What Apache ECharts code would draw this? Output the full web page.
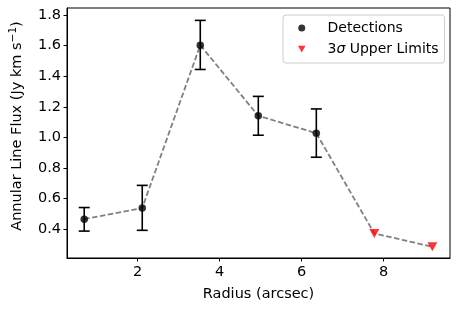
<!DOCTYPE html>
<html><head><meta charset="utf-8">
<script src="https://cdn.jsdelivr.net/npm/echarts@6/dist/echarts.min.js"></script>
<style>html,body{margin:0;padding:0;background:#fff}#c{width:459px;height:311px}</style>
</head><body><div id="c"></div>
<script>
const radius = [0.70, 2.115, 3.53, 4.945, 6.36, 7.775, 9.19];
const flux = [0.465, 0.538, 1.603, 1.141, 1.027, 0.371, 0.285];
const detX = [0.70, 2.115, 3.53, 4.945, 6.36];
const detY = [0.465, 0.538, 1.603, 1.141, 1.027];
const errLow = [0.387, 0.392, 1.444, 1.014, 0.870];
const errHigh = [0.541, 0.686, 1.765, 1.268, 1.186];
const ulX = [7.775, 9.19];
const ulY = [0.371, 0.285];
const xTicks = [2, 4, 6, 8];
const yTicks = [0.4, 0.6, 0.8, 1.0, 1.2, 1.4, 1.6, 1.8];

const font = 'DejaVu Sans';
const fs = 14.5;
const chart = echarts.init(document.getElementById('c'), null, {renderer: 'canvas'});
chart.setOption({
  animation: false,
  backgroundColor: '#fff',
  grid: {left: 65, right: 9, top: 8, bottom: 53, show: true, borderColor: '#000', borderWidth: 1, backgroundColor: 'transparent'},
  xAxis: {
    type: 'value', min: 0.28, max: 9.62,
    name: 'Radius (arcsec)', nameLocation: 'middle', nameGap: 29,
    nameTextStyle: {fontFamily: font, fontSize: fs, color: '#000'},
    axisLine: {show: true, onZero: false, lineStyle: {color: '#000', width: 1}},
    axisTick: {show: true, length: 3.5, lineStyle: {color: '#000'}, customValues: xTicks},
    axisLabel: {fontFamily: font, fontSize: fs, color: '#000', margin: 7, customValues: xTicks, formatter: v => String(v)},
    splitLine: {show: false}
  },
  yAxis: {
    type: 'value', min: 0.211, max: 1.846,
    name: '{n|Annular Line Flux (Jy km s}{s|−1}{n|)}', nameLocation: 'middle', nameGap: 41,
    nameTextStyle: {fontFamily: font, fontSize: fs, color: '#000', padding: [0, 0, 0, 14],
      rich: {n: {fontFamily: font, fontSize: fs, color: '#000'}, s: {fontFamily: font, fontSize: 10.5, color: '#000', verticalAlign: 'top', padding: [0,0,7,0]}}},
    axisLine: {show: true, onZero: false, lineStyle: {color: '#000', width: 1}},
    axisTick: {show: true, length: 3.5, lineStyle: {color: '#000'}, customValues: yTicks},
    axisLabel: {fontFamily: font, fontSize: fs, color: '#000', margin: 6, customValues: yTicks, formatter: v => v.toFixed(1)},
    splitLine: {show: false}
  },
  legend: {
    orient: 'vertical', left: 283, top: 15,
    backgroundColor: '#fff', borderColor: '#ccc', borderWidth: 1, borderRadius: 3,
    padding: [6, 6, 7, 15], itemGap: 7, itemWidth: 7.5, itemHeight: 7,
    textStyle: {fontFamily: font, fontSize: 14, color: '#000', padding: [0,0,0,17],
      rich: {i: {fontFamily: font, fontStyle: 'italic', fontSize: 14, color: '#000'}}},
    formatter: n => n === 'upper' ? '3{i|σ} Upper Limits' : 'Detections',
    data: [
      {name: 'det', icon: 'circle'},
      {name: 'upper', icon: 'path://M0,0 L10,0 L5,9 Z'}
    ]
  },
  series: [
    {type: 'line', data: radius.map((x, i) => [x, flux[i]]), symbol: 'none', silent: true,
     lineStyle: {color: '#808080', width: 1.8, type: [5.5, 2.5]}, z: 1},
    {type: 'custom', silent: true, z: 2,
     data: detX.map((x, i) => [x, errLow[i], errHigh[i]]),
     renderItem: (params, api) => {
       const lo = api.coord([api.value(0), api.value(1)]);
       const hi = api.coord([api.value(0), api.value(2)]);
       const w = 5.5;
       const st = {stroke: '#000', lineWidth: 1.6};
       return {type: 'group', children: [
         {type: 'line', shape: {x1: lo[0], y1: lo[1], x2: hi[0], y2: hi[1]}, style: st},
         {type: 'line', shape: {x1: lo[0]-w, y1: lo[1], x2: lo[0]+w, y2: lo[1]}, style: st},
         {type: 'line', shape: {x1: hi[0]-w, y1: hi[1], x2: hi[0]+w, y2: hi[1]}, style: st}
       ]};
     }},
    {name: 'det', type: 'scatter', data: detX.map((x, i) => [x, detY[i]]), symbol: 'circle', symbolSize: 7.5,
     itemStyle: {color: '#000'}, z: 3},
    {name: 'upper', type: 'scatter', data: ulX.map((x, i) => [x, ulY[i]]), symbol: 'triangle', symbolRotate: 180, symbolSize: [10, 9],
     itemStyle: {color: '#ff0000'}, z: 3}
  ]
});
</script></body></html>
